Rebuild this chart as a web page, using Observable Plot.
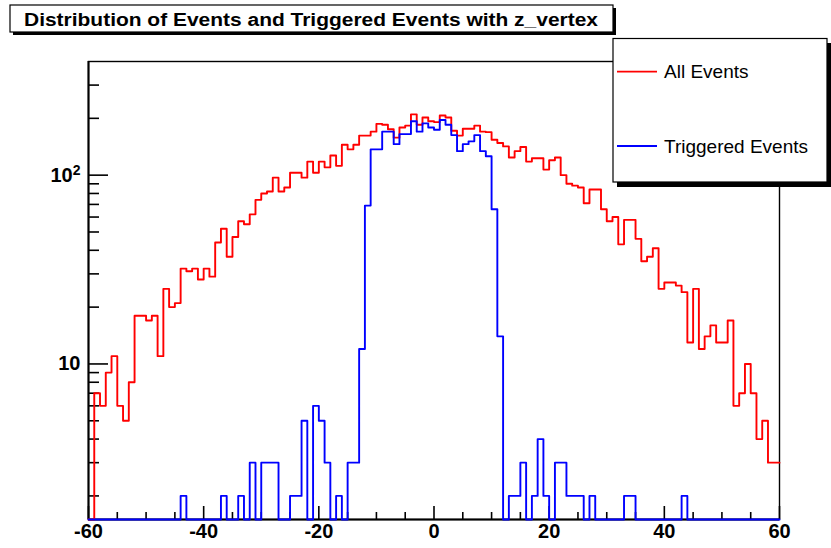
<!DOCTYPE html>
<html>
<head>
<meta charset="utf-8">
<script src="https://cdn.jsdelivr.net/npm/d3@7"></script>
<script src="https://cdn.jsdelivr.net/npm/@observablehq/plot@0.6"></script>
<style>
  html, body { margin: 0; padding: 0; background: #fff; }
  #chart svg { display: block; }
</style>
</head>
<body>
<div id="chart"></div>
<script>
// ---- data (1-unit bins from -60 to 60) ----
const xMin = -60, xMax = 60, binWidth = 1;

const allEvents = [
  1, 7, 6, 9, 11, 6, 5, 8, 18, 18,
  17, 18, 11, 25, 20, 21, 32, 31, 32, 28,
  32, 29, 44, 52, 37, 47, 57, 55, 62, 74,
  80, 82, 97, 82, 86, 103, 103, 97, 118, 103,
  118, 110, 127, 112, 145, 137, 145, 162, 162, 170,
  187, 185, 175, 158, 179, 183, 210, 185, 202, 193,
  191, 207, 202, 172, 162, 176, 176, 183, 170, 169,
  154, 148, 142, 124, 134, 141, 118, 123, 123, 107,
  120, 124, 100, 90, 88, 86, 71, 84, 84, 66,
  57, 60, 43, 58, 58, 46, 35, 37, 41, 25,
  27, 27, 26, 24, 13, 25, 12, 14, 16, 13,
  13, 17, 6, 7, 10, 7, 4, 5, 3, 3
];

const triggeredEvents = [
  0, 0, 0, 0, 0, 0, 0, 0, 0, 0,
  0, 0, 0, 0, 0, 0, 2, 0, 0, 0,
  0, 0, 0, 2, 0, 0, 2, 0, 3, 0,
  3, 3, 3, 0, 0, 2, 2, 5, 0, 6,
  5, 3, 0, 2, 0, 3, 3, 12, 69, 137,
  137, 170, 170, 146, 165, 165, 193, 170, 188, 179,
  174, 196, 185, 163, 134, 146, 151, 163, 134, 126,
  66, 14, 0, 2, 2, 3, 0, 2, 4, 2,
  0, 3, 3, 2, 2, 2, 0, 2, 0, 0,
  0, 0, 0, 2, 2, 0, 0, 0, 0, 0,
  0, 0, 0, 2, 0, 0, 0, 0, 0, 0,
  0, 0, 0, 0, 0, 0, 0, 0, 0, 0
];

const xMajorTicks = [-60, -40, -20, 0, 20, 40, 60];
const xMinorTicks = [-55, -50, -45, -35, -30, -25, -15, -10, -5, 5, 10, 15, 25, 30, 35, 45, 50, 55];
const yMajorTicks = [10, 100];
const yMajorLabels = ["10", "10\u00B2"];
const yMinorTicks = [2, 3, 4, 5, 6, 7, 8, 9, 20, 30, 40, 50, 60, 70, 80, 90, 200, 300];
const yDomain = [1.5, 400];

const titleText = "Distribution of Events and Triggered Events with z_vertex";
const seriesNames = ["All Events", "Triggered Events"];
const seriesColors = ["#ff0000", "#0000ff"];

// ---- layout ----
const W = 831, H = 548;
const mL = 88, mR = 52, mT = 61, mB = 29;
const plotW = W - mL - mR, plotH = H - mT - mB;
const FONT = "'Liberation Sans', Arial, Helvetica, sans-serif";

function histRows(values) {
  const rows = values.map((v, i) => ({x: xMin + i * binWidth, v}));
  rows.push({x: xMin + values.length * binWidth, v: values[values.length - 1]});
  return rows;
}
const yOf = d => Math.max(d.v, yDomain[0]);

const svg = Plot.plot({
  width: W, height: H,
  marginLeft: mL, marginRight: mR, marginTop: mT, marginBottom: mB,
  style: {fontFamily: FONT, background: "#fff", color: "#000"},
  x: {domain: [xMin, xMax]},
  y: {type: "log", domain: yDomain},
  marks: [
    Plot.frame({stroke: "#000", strokeWidth: 1.4}),
    Plot.tickX(xMajorTicks, {x: d => d, insetTop: plotH - 13, stroke: "#000", strokeWidth: 1.6}),
    Plot.tickX(xMinorTicks, {x: d => d, insetTop: plotH - 7, stroke: "#000", strokeWidth: 1.6}),
    Plot.tickY(yMajorTicks, {y: d => d, insetRight: plotW - 20, stroke: "#000", strokeWidth: 1.6}),
    Plot.tickY(yMinorTicks, {y: d => d, insetRight: plotW - 11, stroke: "#000", strokeWidth: 1.6}),
    Plot.ruleX([xMin], {stroke: "#000", strokeWidth: 2}),
    Plot.ruleY([yDomain[0]], {stroke: "#000", strokeWidth: 2}),
    Plot.line(histRows(allEvents), {x: "x", y: yOf, curve: "step-after", stroke: seriesColors[0], strokeWidth: 1.9}),
    Plot.line(histRows(triggeredEvents), {x: "x", y: yOf, curve: "step-after", stroke: seriesColors[1], strokeWidth: 1.9}),
    Plot.axisX({ticks: xMajorTicks, tickSize: 0, tickPadding: 4, tickFormat: d => String(d), label: null,
                fontSize: 20, fontWeight: "bold", fill: "#000"}),
    Plot.axisY({ticks: yMajorTicks, tickSize: 0, tickPadding: 8, label: null,
                tickFormat: d => yMajorLabels[yMajorTicks.indexOf(d)],
                fontSize: 20, fontWeight: "bold", fill: "#000"})
  ]
});

document.getElementById("chart").appendChild(svg);

const root = d3.select(svg);

// render the exponent of "10²" as a raised superscript, ROOT-style
root.selectAll("text").each(function() {
  const t = d3.select(this);
  if (t.text() === "10\u00B2") {
    t.text("10");
    t.append("tspan").attr("dy", "-0.45em").attr("font-size", 14).text("2");
  }
});

// ---- title box and legend (overlaid annotations) ----
const tg = root.append("g").attr("class", "title-box");
tg.append("rect").attr("x", 13).attr("y", 8).attr("width", 603).attr("height", 27).attr("fill", "#000");
tg.append("rect").attr("x", 10).attr("y", 5).attr("width", 603).attr("height", 27)
  .attr("fill", "#fff").attr("stroke", "#000").attr("stroke-width", 1.2);
tg.append("text").attr("x", 24).attr("y", 25.5).attr("text-anchor", "start")
  .attr("font-family", FONT).attr("font-size", 18).attr("font-weight", "bold").attr("fill", "#000")
  .attr("textLength", 574).attr("lengthAdjust", "spacingAndGlyphs")
  .text(titleText);

const lg = root.append("g").attr("class", "legend-box");
lg.append("rect").attr("x", 617).attr("y", 43).attr("width", 214).attr("height", 144).attr("fill", "#000");
lg.append("rect").attr("x", 613).attr("y", 38.5).attr("width", 214).attr("height", 143.5)
  .attr("fill", "#fff").attr("stroke", "#000").attr("stroke-width", 1.2);
const legendY = [71.7, 146];
seriesNames.forEach((name, i) => {
  lg.append("line").attr("x1", 617).attr("x2", 657).attr("y1", legendY[i]).attr("y2", legendY[i])
    .attr("stroke", seriesColors[i]).attr("stroke-width", 1.8);
  lg.append("text").attr("x", 664).attr("y", legendY[i]).attr("dy", "0.35em").attr("text-anchor", "start")
    .attr("font-family", FONT).attr("font-size", 19).attr("fill", "#000")
    .text(name);
});
</script>
</body>
</html>
